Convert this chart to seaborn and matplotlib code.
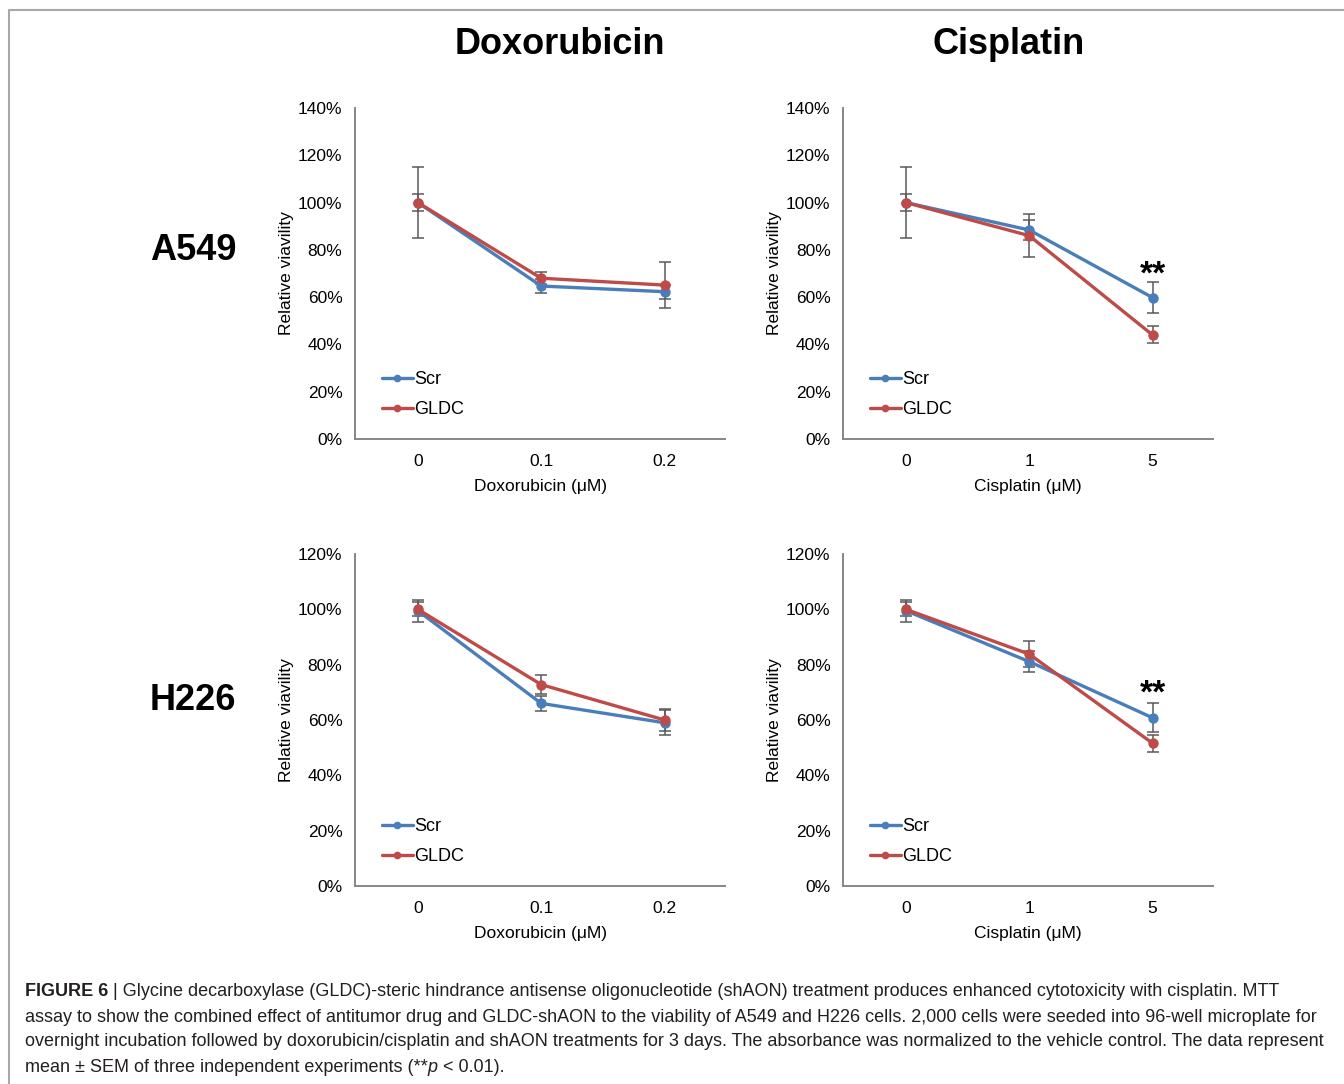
import pandas as pd
import matplotlib.pyplot as plt
import seaborn as sns
from matplotlib.lines import Line2D
from matplotlib.ticker import FuncFormatter

# Doses (x categories)
dox_doses = ['0', '0.1', '0.2']
cis_doses = ['0', '1', '5']

# A549 - Doxorubicin
a549_dox_scr = [100, 64.7, 62.3]
a549_dox_scr_err = [15, 2.8, 3.0]
a549_dox_gldc = [100, 68.0, 65.1]
a549_dox_gldc_err = [3.5, 2.5, 9.6]

# A549 - Cisplatin
a549_cis_scr = [100, 88.4, 59.8]
a549_cis_scr_err = [15, 4.2, 6.5]
a549_cis_gldc = [100, 86.0, 44.0]
a549_cis_gldc_err = [3.5, 9.0, 3.6]

# H226 - Doxorubicin
h226_dox_scr = [99.5, 66.0, 59.0]
h226_dox_scr_err = [4.0, 2.8, 4.5]
h226_dox_gldc = [100, 72.8, 60.0]
h226_dox_gldc_err = [2.5, 3.4, 4.0]

# H226 - Cisplatin
h226_cis_scr = [99.5, 81.1, 60.8]
h226_cis_scr_err = [4.0, 3.9, 5.3]
h226_cis_gldc = [100, 83.8, 51.6]
h226_cis_gldc_err = [2.5, 4.6, 3.0]

groups = ['Scr', 'GLDC']
colors = {'Scr': '#4a7ebb', 'GLDC': '#be4b48'}
err_color = '#5a5a5a'
axis_color = '#868686'

sns.set_style('white')
plt.rcParams['font.family'] = ['Liberation Sans', 'DejaVu Sans']
plt.rcParams['text.color'] = 'black'
plt.rcParams['axes.labelcolor'] = 'black'
plt.rcParams['xtick.color'] = 'black'
plt.rcParams['ytick.color'] = 'black'

fig = plt.figure(figsize=(13.44, 10.84), dpi=100)
W, H = 1344, 1084


def add_axes_px(left, top, right, bottom):
    return fig.add_axes([left / W, 1 - bottom / H, (right - left) / W, (bottom - top) / H])


def draw_panel(ax, doses, scr, scr_err, gldc, gldc_err, ymax, xlabel, star_y=None):
    df = pd.DataFrame({
        'pos': list(range(len(doses))) * 2,
        'value': scr + gldc,
        'err': scr_err + gldc_err,
        'group': ['Scr'] * len(doses) + ['GLDC'] * len(doses),
    })
    for g in groups:
        sub = df[df['group'] == g]
        ax.errorbar(sub['pos'], sub['value'], yerr=sub['err'], fmt='none',
                    ecolor=err_color, elinewidth=1.1, capsize=4, capthick=1.1, zorder=1)
    sns.lineplot(data=df, x='pos', y='value', hue='group', hue_order=groups,
                 palette=colors, marker='o', markersize=7.5, markeredgewidth=0,
                 linewidth=2.4, legend=False, ax=ax, zorder=2)
    ax.set_xlim(-0.51, 2.49)
    ax.set_ylim(0, ymax)
    ax.set_xticks(range(len(doses)))
    ax.set_xticklabels(doses)
    ax.set_yticks(range(0, ymax + 1, 20))
    ax.yaxis.set_major_formatter(FuncFormatter(lambda v, p: f'{int(v)}%'))
    ax.tick_params(axis='y', direction='out', length=5, width=1.2, color=axis_color,
                   labelsize=12.5, pad=4)
    ax.tick_params(axis='x', length=0, labelsize=12.5, pad=11)
    for s in ['top', 'right']:
        ax.spines[s].set_visible(False)
    for s in ['left', 'bottom']:
        ax.spines[s].set_color(axis_color)
        ax.spines[s].set_linewidth(1.4)
    ax.set_xlabel(xlabel, fontsize=12.5, labelpad=7)
    ax.set_ylabel('Relative viavility', fontsize=12.5, labelpad=3)
    handles = [Line2D([0], [0], color=colors[g], lw=2.4, marker='o', markersize=5.5,
                      markeredgewidth=0) for g in groups]
    ax.legend(handles, groups, loc='center left', bbox_to_anchor=(0.073, 0.134),
              frameon=False, fontsize=13, handlelength=1.7, handletextpad=0.1,
              labelspacing=0.7, borderpad=0, borderaxespad=0)
    if star_y is not None:
        ax.text(2, star_y, '**', ha='center', va='center', fontsize=24, fontweight='bold')


ax1 = add_axes_px(355, 108, 725, 439)
ax2 = add_axes_px(843, 108, 1213, 439)
ax3 = add_axes_px(355, 554, 725, 886)
ax4 = add_axes_px(843, 554, 1213, 886)

draw_panel(ax1, dox_doses, a549_dox_scr, a549_dox_scr_err, a549_dox_gldc, a549_dox_gldc_err,
           140, 'Doxorubicin (\u03bcM)')
draw_panel(ax2, cis_doses, a549_cis_scr, a549_cis_scr_err, a549_cis_gldc, a549_cis_gldc_err,
           140, 'Cisplatin (\u03bcM)', star_y=69.5)
draw_panel(ax3, dox_doses, h226_dox_scr, h226_dox_scr_err, h226_dox_gldc, h226_dox_gldc_err,
           120, 'Doxorubicin (\u03bcM)')
draw_panel(ax4, cis_doses, h226_cis_scr, h226_cis_scr_err, h226_cis_gldc, h226_cis_gldc_err,
           120, 'Cisplatin (\u03bcM)', star_y=69.5)

# Column and row titles
fig.text(560 / W, 1 - 44 / H, 'Doxorubicin', ha='center', va='center', fontsize=26, fontweight='bold')
fig.text(1009 / W, 1 - 44 / H, 'Cisplatin', ha='center', va='center', fontsize=26, fontweight='bold')
fig.text(193 / W, 1 - 251 / H, 'A549', ha='center', va='center', fontsize=26, fontweight='bold')
fig.text(193 / W, 1 - 700 / H, 'H226', ha='center', va='center', fontsize=26, fontweight='bold')

# Frame lines around the figure
frame_color = '#a8a8a8'
fig.add_artist(Line2D([9 / W, 1], [1 - 10 / H, 1 - 10 / H], color=frame_color, lw=1.5))
fig.add_artist(Line2D([9 / W, 9 / W], [0, 1 - 10 / H], color=frame_color, lw=1.5))

# Caption
cap_size = 13
cap_color = '#231f20'
cap_x = 25 / W
line_y = [992, 1017, 1042, 1067]
renderer = fig.canvas.get_renderer()


def put_after(prev, s, y, **kw):
    bb = prev.get_window_extent(renderer=renderer)
    return fig.text(bb.x1 / W, 1 - y / H, s, ha='left', va='center', fontsize=cap_size,
                    color=cap_color, **kw)


t = fig.text(cap_x, 1 - line_y[0] / H, 'FIGURE 6', ha='left', va='center',
             fontsize=cap_size, fontweight='bold', color=cap_color)
put_after(t, ' | Glycine decarboxylase (GLDC)-steric hindrance antisense oligonucleotide (shAON) '
             'treatment produces enhanced cytotoxicity with cisplatin. MTT', line_y[0])
fig.text(cap_x, 1 - line_y[1] / H,
         'assay to show the combined effect of antitumor drug and GLDC-shAON to the viability of '
         'A549 and H226 cells. 2,000 cells were seeded into 96-well microplate for',
         ha='left', va='center', fontsize=cap_size, color=cap_color)
fig.text(cap_x, 1 - line_y[2] / H,
         'overnight incubation followed by doxorubicin/cisplatin and shAON treatments for 3 days. '
         'The absorbance was normalized to the vehicle control. The data represent',
         ha='left', va='center', fontsize=cap_size, color=cap_color)
t = fig.text(cap_x, 1 - line_y[3] / H, 'mean \u00b1 SEM of three independent experiments (**',
             ha='left', va='center', fontsize=cap_size, color=cap_color)
t = put_after(t, 'p', line_y[3], style='italic')
put_after(t, ' < 0.01).', line_y[3])

fig.savefig('out.png', dpi=100)
